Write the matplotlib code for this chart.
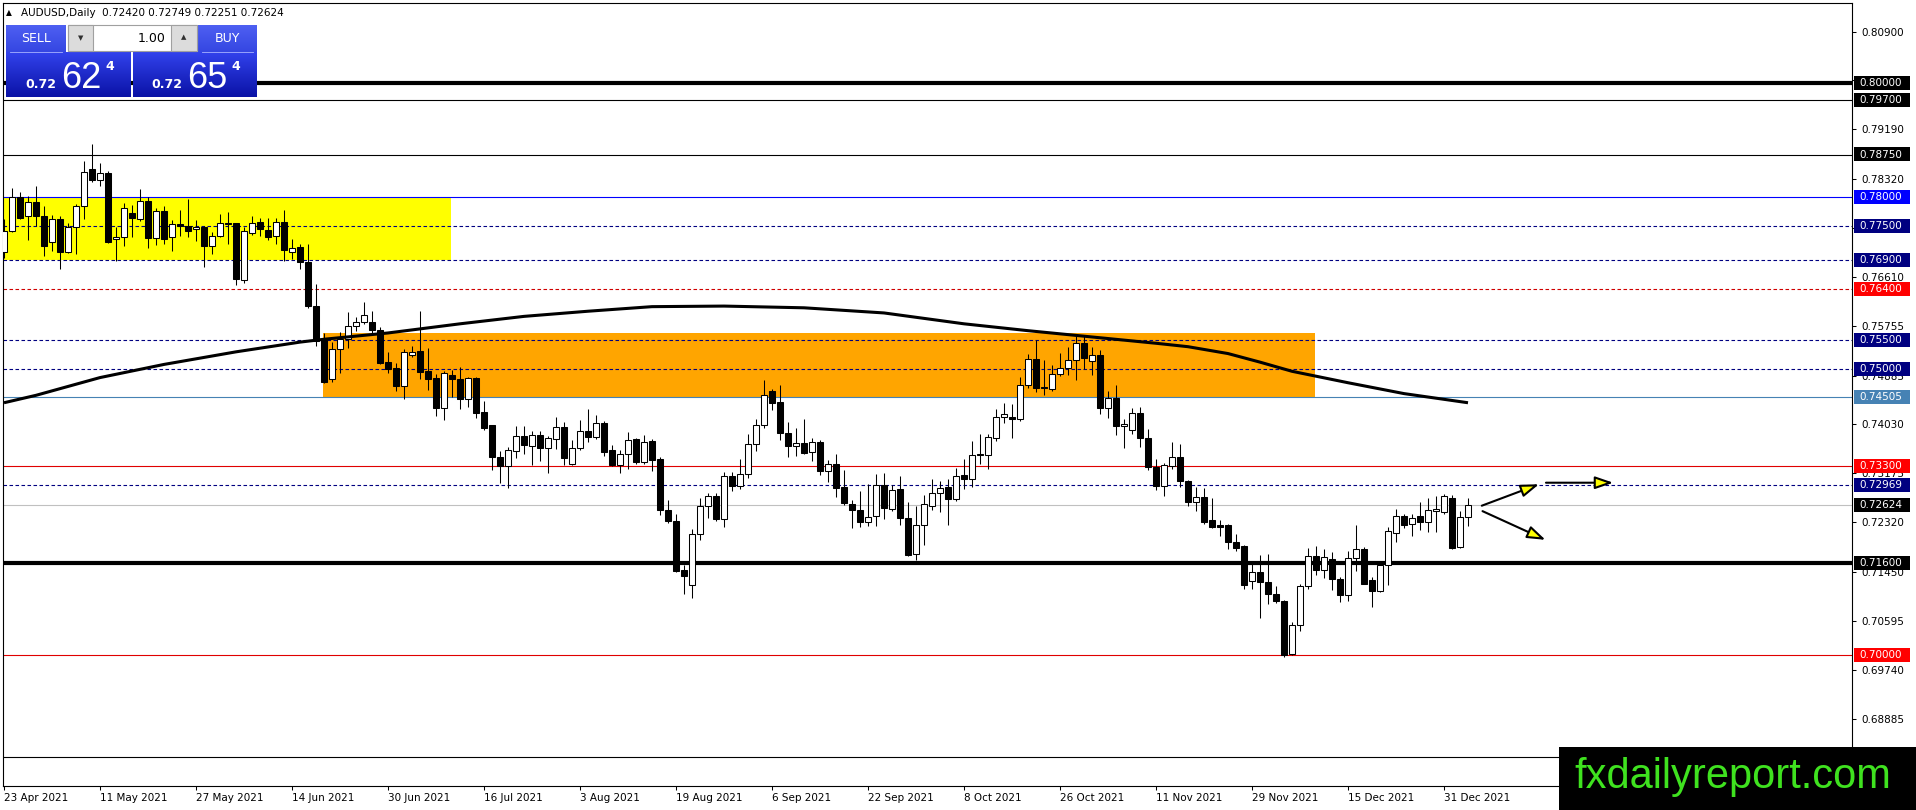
import numpy as np
import pandas as pd
import matplotlib
matplotlib.use("Agg")
import matplotlib.pyplot as plt
from matplotlib.patches import Rectangle, FancyArrowPatch

W, H = 1916, 810

symbol = "AUDUSD,Daily"
first_day = "2021-04-23"

# daily candles, 23 Apr 2021 .. 5 Jan 2022
opens = [
    .77048, .77404, .78000, .77667, .77912, .77667, .77229, .77620, .77048, .77474,
    .77842, .78496, .78310, .78426, .77264, .77299, .77726, .77620, .77936, .77282,
    .77761, .77299, .77527, .77504, .77439, .77474, .77142, .77328, .77544, .77544,
    .76558, .77369, .77562, .77428, .77317, .77562, .77048, .77130, .76879, .76102,
    .75511, .74826, .75347, .75523, .75745, .75815, .75815, .75675, .75125, .75019,
    .74709, .75248, .75318, .74973, .74838, .74323, .74891, .74826, .74470, .74838,
    .74241, .74013, .73463, .73305, .73569, .73826, .73656, .73844, .73621, .73779,
    .73978, .73346, .73627, .73920, .73803, .74060, .73592, .73329, .73522, .73768,
    .73376, .73740, .73418, .72539, .72345, .71484, .71220, .72117, .72597, .72779,
    .72381, .73125, .72961, .73172, .73681, .74016, .74619, .74426, .73875, .73658,
    .73699, .73553, .73728, .73219, .73347, .72931, .72633, .72539, .72322, .72427,
    .72967, .72556, .72896, .72392, .71765, .72275, .72603, .72838, .72937, .72726,
    .73142, .73076, .73514, .73497, .73795, .74168, .74168, .74128, .74723, .75179,
    .74694, .74653, .74916, .75021, .75150, .75453, .75138, .75237, .74320, .74496,
    .74005, .73935, .74233, .73795, .73281, .72960, .73310, .73468, .73047, .72668,
    .72755, .72358, .72265, .72276, .71979, .71898, .71285, .71448, .71279, .71069,
    .70952, .70017, .70531, .71209, .71735, .71490, .71682, .71332, .71052, .71700,
    .71858, .71314, .71116, .71566, .72138, .72436, .72296, .72424, .72325, .72523,
    .72500, .72751, .71887, .72420,
]
highs = [
    .77620, .78158, .78088, .78029, .78193, .77854, .77690, .77667, .77550, .77889,
    .78631, .78934, .78602, .78467, .77480, .77901, .77866, .78140, .78000, .77819,
    .77842, .77609, .77784, .77971, .77609, .77504, .77387, .77708, .77749, .77550,
    .77474, .77667, .77644, .77632, .77638, .77784, .77270, .77182, .77182, .76482,
    .75628, .75464, .75640, .75996, .75909, .76172, .76008, .75733, .75300, .75101,
    .75347, .75406, .76020, .75365, .74908, .74973, .74984, .75043, .74867, .74867,
    .74446, .74019, .73569, .73639, .74007, .74007, .73920, .73914, .73826, .74154,
    .74078, .73756, .74107, .74300, .74195, .74095, .73668, .73580, .73902, .73785,
    .73844, .73769, .73453, .72715, .72457, .71578, .72205, .72750, .72832, .72832,
    .73195, .73201, .73435, .73863, .74121, .74812, .74648, .74725, .74074, .73963,
    .74121, .73787, .73758, .73406, .73506, .73242, .72703, .72861, .72984, .73172,
    .73189, .72967, .73131, .72674, .72603, .72803, .73072, .73037, .73072, .73271,
    .73418, .73748, .73865, .73865, .74303, .74402, .74390, .74858, .75255, .75500,
    .75150, .75062, .75278, .75383, .75570, .75588, .75383, .75336, .74612, .74723,
    .74128, .74320, .74344, .73952, .73427, .73351, .73719, .73690, .73059, .72942,
    .72913, .72744, .72364, .72288, .72113, .71915, .71606, .71740, .71758, .71215,
    .70963, .70572, .71244, .71869, .71898, .71858, .71799, .71361, .71811, .72266,
    .71887, .71361, .71624, .72237, .72558, .72471, .72471, .72675, .72751, .72774,
    .72809, .72792, .72517, .72749,
]
lows = [
    .76949, .77387, .77620, .77258, .77504, .76978, .77066, .76744, .77025, .77007,
    .77620, .78274, .78204, .77200, .76890, .77153, .77299, .77591, .77124, .77165,
    .77182, .77066, .77328, .77299, .77241, .76791, .77007, .77299, .77182, .76476,
    .76511, .77340, .77328, .77258, .77182, .76890, .76931, .76756, .76073, .75401,
    .74762, .74780, .74938, .75365, .75657, .75792, .75616, .75090, .74938, .74616,
    .74470, .75207, .74826, .74633, .74177, .74107, .74505, .74294, .74341, .74136,
    .73931, .73229, .73007, .72925, .73452, .73522, .73317, .73393, .73183, .73598,
    .73317, .73317, .73580, .73727, .73768, .73481, .73305, .73183, .73247, .73346,
    .73335, .73219, .72439, .72304, .71443, .71074, .70992, .72017, .72392, .72351,
    .72234, .72867, .72908, .73101, .73570, .73975, .74285, .73758, .73465, .73482,
    .73506, .73394, .73142, .73025, .72762, .72627, .72222, .72234, .72252, .72252,
    .72381, .72515, .72275, .71724, .71666, .71929, .72527, .72498, .72275, .72691,
    .72908, .72930, .73339, .73252, .73748, .74058, .73795, .74098, .74671, .74595,
    .74548, .74624, .74869, .74887, .74811, .75004, .74887, .74215, .74145, .73847,
    .73620, .73865, .73631, .73234, .72884, .72784, .73252, .72942, .72598, .72522,
    .72288, .72218, .72084, .71850, .71821, .71156, .71156, .70648, .70893, .70911,
    .69959, .70006, .70414, .71157, .71390, .71349, .71139, .70923, .70941, .71466,
    .71233, .70836, .71098, .71227, .71974, .72225, .72079, .72190, .72150, .72159,
    .72471, .71858, .71875, .72251,
]
closes = [
    .77404, .78000, .77644, .77912, .77667, .77153, .77620, .77048, .77474, .77842,
    .78438, .78310, .78426, .77229, .77299, .77807, .77644, .77936, .77282, .77761,
    .77270, .77527, .77504, .77416, .77474, .77142, .77328, .77544, .77533, .76569,
    .77404, .77544, .77445, .77311, .77562, .77083, .77124, .76879, .76102, .75489,
    .74780, .75347, .75523, .75757, .75821, .75950, .75675, .75113, .74996, .74704,
    .75300, .75300, .74955, .74826, .74323, .74926, .74821, .74470, .74838, .74236,
    .73972, .73463, .73305, .73592, .73826, .73680, .73844, .73621, .73785, .73978,
    .73452, .73627, .73920, .73803, .74048, .73551, .73317, .73522, .73756, .73376,
    .73727, .73406, .72527, .72340, .71472, .71379, .72117, .72597, .72785, .72375,
    .73137, .72961, .73172, .73681, .74016, .74543, .74414, .73875, .73658, .73699,
    .73535, .73717, .73219, .73347, .72926, .72656, .72539, .72322, .72410, .72978,
    .72568, .72879, .72392, .71754, .72275, .72644, .72838, .72926, .72726, .73137,
    .73078, .73497, .73491, .73806, .74168, .74215, .74128, .74723, .75179, .74671,
    .74671, .74916, .75021, .75150, .75453, .75196, .75237, .74320, .74496, .73999,
    .74040, .74233, .73795, .73281, .72960, .73322, .73468, .73036, .72668, .72755,
    .72329, .72241, .72241, .71967, .71879, .71226, .71448, .71273, .71069, .70940,
    .70006, .70531, .71203, .71735, .71490, .71712, .71332, .71052, .71700, .71858,
    .71244, .71116, .71566, .72161, .72436, .72266, .72401, .72325, .72541, .72547,
    .72774, .71875, .72412, .72624,
]

# moving average, sampled along the drawn line
ma_idx = [0, 4, 12, 20, 29, 37, 40, 48, 57, 65, 73, 81, 90, 100, 110, 120,
          128, 136, 144, 148, 153, 157, 161, 168, 175, 183]
ma_val = [0.7441, 0.7454, 0.7485, 0.7508, 0.7530, 0.7547, 0.7552, 0.7563, 0.7579,
          0.7592, 0.7601, 0.7609, 0.7610, 0.7607, 0.7598, 0.7579, 0.7567, 0.7556,
          0.7545, 0.7539, 0.7527, 0.7512, 0.7496, 0.7476, 0.7457, 0.7441]

# horizontal levels drawn on the chart
thick_levels = [0.80000, 0.71600]
black_levels = [0.79700, 0.78750, 0.68217]
blue_levels = [0.78000]
navy_dash_levels = [0.77500, 0.76900, 0.75500, 0.75000, 0.72969]
red_dash_levels = [0.76400]
red_levels = [0.73300, 0.70000]
steel_levels = [0.74505]
bid_level = closes[-1]

# zones (bar index from/to, price from/to)
yellow_zone = (-1.0, 55.9, 0.76900, 0.78000)
orange_zone = (39.9, 163.9, 0.74505, 0.75630)

# right price scale
price_ticks = [0.80900, 0.80045, 0.79190, 0.78320, 0.77465, 0.76610, 0.75755,
               0.74885, 0.74030, 0.73175, 0.72320, 0.71450, 0.70595, 0.69740, 0.68885]
label_prices = [0.80000, 0.79700, 0.78750, 0.78000, 0.77500, 0.76900, 0.76400,
                0.75500, 0.75000, 0.74505, 0.73300, 0.72969, 0.72624, 0.71600, 0.70000]
label_colors = ["#000000", "#000000", "#000000", "#0000FF", "#000080", "#000080", "#FF0000",
                "#000080", "#000080", "#4682B4", "#FF0000", "#000080", "#000000", "#000000", "#FF0000"]

n = len(closes)
dates = pd.bdate_range(first_day, periods=n)
o = np.array(opens); h = np.array(highs); l = np.array(lows); c = np.array(closes)
x = np.arange(n)

fig = plt.figure(figsize=(W / 100, H / 100), dpi=100)
ax = fig.add_axes([3 / W, 24 / H, 1849 / W, 783 / H])
ax.set_xlim(-0.125, 231)
ax.set_ylim(0.677098, 0.813986)

# zones
for x0, x1, p0, p1, col in [(*yellow_zone, "#FFFF00"), (*orange_zone, "#FFA500")]:
    ax.add_patch(Rectangle((x0, p0), x1 - x0, p1 - p0, facecolor=col, edgecolor="none", zorder=1))

# levels
dash = (0, (3.2, 2.2))
for p in thick_levels:
    ax.axhline(p, color="black", lw=3.0, zorder=2)
for p in black_levels:
    ax.axhline(p, color="black", lw=0.8, zorder=2)
for p in blue_levels:
    ax.axhline(p, color="#0000FF", lw=0.8, zorder=2)
for p in navy_dash_levels:
    ax.axhline(p, color="#000080", lw=0.8, ls=dash, zorder=2)
for p in red_dash_levels:
    ax.axhline(p, color="#D00000", lw=0.8, ls=dash, zorder=2)
for p in red_levels:
    ax.axhline(p, color="#E00000", lw=0.8, zorder=2)
for p in steel_levels:
    ax.axhline(p, color="#4682B4", lw=0.8, zorder=2)
ax.axhline(bid_level, color="#C0C0C0", lw=0.8, zorder=2)

# candles
up = c >= o
ax.vlines(x, l, h, color="black", lw=0.75, zorder=3)
ax.bar(x, np.maximum(np.abs(c - o), 0.00002), bottom=np.minimum(o, c), width=0.7,
       color=np.where(up, "white", "black"), edgecolor="black", linewidth=0.75, zorder=3.5)

# moving average
ax.plot(ma_idx, ma_val, color="black", lw=2.2, zorder=4, solid_capstyle="butt")

# arrows
def arrow(p0, p1):
    ax.add_patch(FancyArrowPatch(p0, p1, arrowstyle="-|>,head_length=1.1,head_width=0.38",
                                 mutation_scale=10, lw=1.5, edgecolor="black",
                                 facecolor="#FFFF00", zorder=6, clip_on=False))
arrow((184.4, 0.72593), (192.2, 0.73002))
arrow((192.4, 0.73012), (201.5, 0.73012))
arrow((184.5, 0.72535), (193.0, 0.71993))

# axes look
for s in ax.spines.values():
    s.set_linewidth(0.8)
    s.set_color("black")
ax.yaxis.tick_right()
ax.set_yticks(price_ticks)
ax.set_yticklabels([f"{v:.5f}" for v in price_ticks])
ax.tick_params(axis="y", direction="out", length=3, width=0.75, pad=4, labelsize=7.5)
tick_idx = list(range(0, n, 12))
ax.set_xticks(tick_idx)
ax.set_xticklabels([f"{dates[i].day} {dates[i].strftime('%b %Y')}" for i in tick_idx])
ax.tick_params(axis="x", direction="out", length=3, width=0.75, pad=2, labelsize=7.5)
for lab in ax.get_xticklabels():
    lab.set_horizontalalignment("left")

# price labels on the scale
ytr = ax.get_yaxis_transform()
for p, col in zip(label_prices, label_colors):
    ax.add_patch(Rectangle((1 + 2 / 1849, p - 0.00122), 56 / 1849, 0.00245, transform=ytr,
                           facecolor=col, edgecolor="none", clip_on=False, zorder=10))
    ax.text(1 + 7 / 1849, p, f"{p:.5f}", transform=ytr, color="white", fontsize=7.5,
            va="center", ha="left", zorder=11, clip_on=False)

# overlay in pixel units: header, trade panel, watermark
ov = fig.add_axes([0, 0, 1, 1], zorder=20)
ov.patch.set_visible(False)
ov.axis("off")

def grad_box(x0, y0, x1, y1, top, bot):
    t = np.linspace(0, 1, 64)[:, None, None]
    a = np.array(matplotlib.colors.to_rgb(top))[None, None, :]
    b = np.array(matplotlib.colors.to_rgb(bot))[None, None, :]
    ov.imshow(a * (1 - t) + b * t, extent=(x0, x1, y1, y0), aspect="auto", zorder=1,
              interpolation="bilinear")

ov.text(6, 13, "\u25b2", fontsize=5.5, va="center", ha="left")
ov.text(21, 13, f"{symbol}  {opens[-1]:.5f} {highs[-1]:.5f} {lows[-1]:.5f} {closes[-1]:.5f}",
        fontsize=7.5, va="center", ha="left")

grad_box(6, 25, 66, 52, "#4E60F2", "#3546E2")
grad_box(198, 25, 257, 52, "#4E60F2", "#3546E2")
grad_box(6, 52, 131, 97, "#3242EC", "#0A12A6")
grad_box(133, 52, 257, 97, "#3242EC", "#0A12A6")
ov.plot([10, 62], [51.5, 51.5], color="#A8B2FF", lw=0.6, zorder=2)
ov.plot([202, 253], [51.5, 51.5], color="#A8B2FF", lw=0.6, zorder=2)
ov.add_patch(Rectangle((68, 25), 129, 26, facecolor="white", edgecolor="#A0A0A0", lw=0.8, zorder=1))
ov.add_patch(Rectangle((68, 25), 25, 26, facecolor="#DCDCDC", edgecolor="#A0A0A0", lw=0.8, zorder=2))
ov.add_patch(Rectangle((171, 25), 26, 26, facecolor="#DCDCDC", edgecolor="#A0A0A0", lw=0.8, zorder=2))
ov.text(80.5, 38, "\u25bc", fontsize=5, color="#303030", ha="center", va="center", zorder=3)
ov.text(184, 37.5, "\u25b2", fontsize=5, color="#303030", ha="center", va="center", zorder=3)
ov.text(166, 38.5, "1.00", fontsize=9, ha="right", va="center", zorder=3)
ov.text(36, 38.5, "SELL", fontsize=9, color="white", ha="center", va="center", zorder=3)
ov.text(227.5, 38.5, "BUY", fontsize=9, color="white", ha="center", va="center", zorder=3)
for x0, big in [(25, "62"), (151, "65")]:
    ov.text(x0, 88, "0.72", fontsize=9, fontweight="bold", color="white", ha="left",
            va="baseline", zorder=3)
    ov.text(x0 + 36, 88, big, fontsize=26, family="Liberation Sans", color="white",
            ha="left", va="baseline", zorder=3)
    ov.text(x0 + 80, 70, "4", fontsize=9, fontweight="bold", color="white", ha="left",
            va="baseline", zorder=3)

ov.add_patch(Rectangle((1559, 747), W - 1559, H - 747, facecolor="black", edgecolor="none", zorder=5))
ov.text(1733, 788, "fxdailyreport.com", fontsize=30, family="Liberation Sans",
        color="#3FE21F", ha="center", va="baseline", zorder=6)

ov.set_xlim(0, W)
ov.set_ylim(H, 0)

fig.savefig("out.png", dpi=100)
